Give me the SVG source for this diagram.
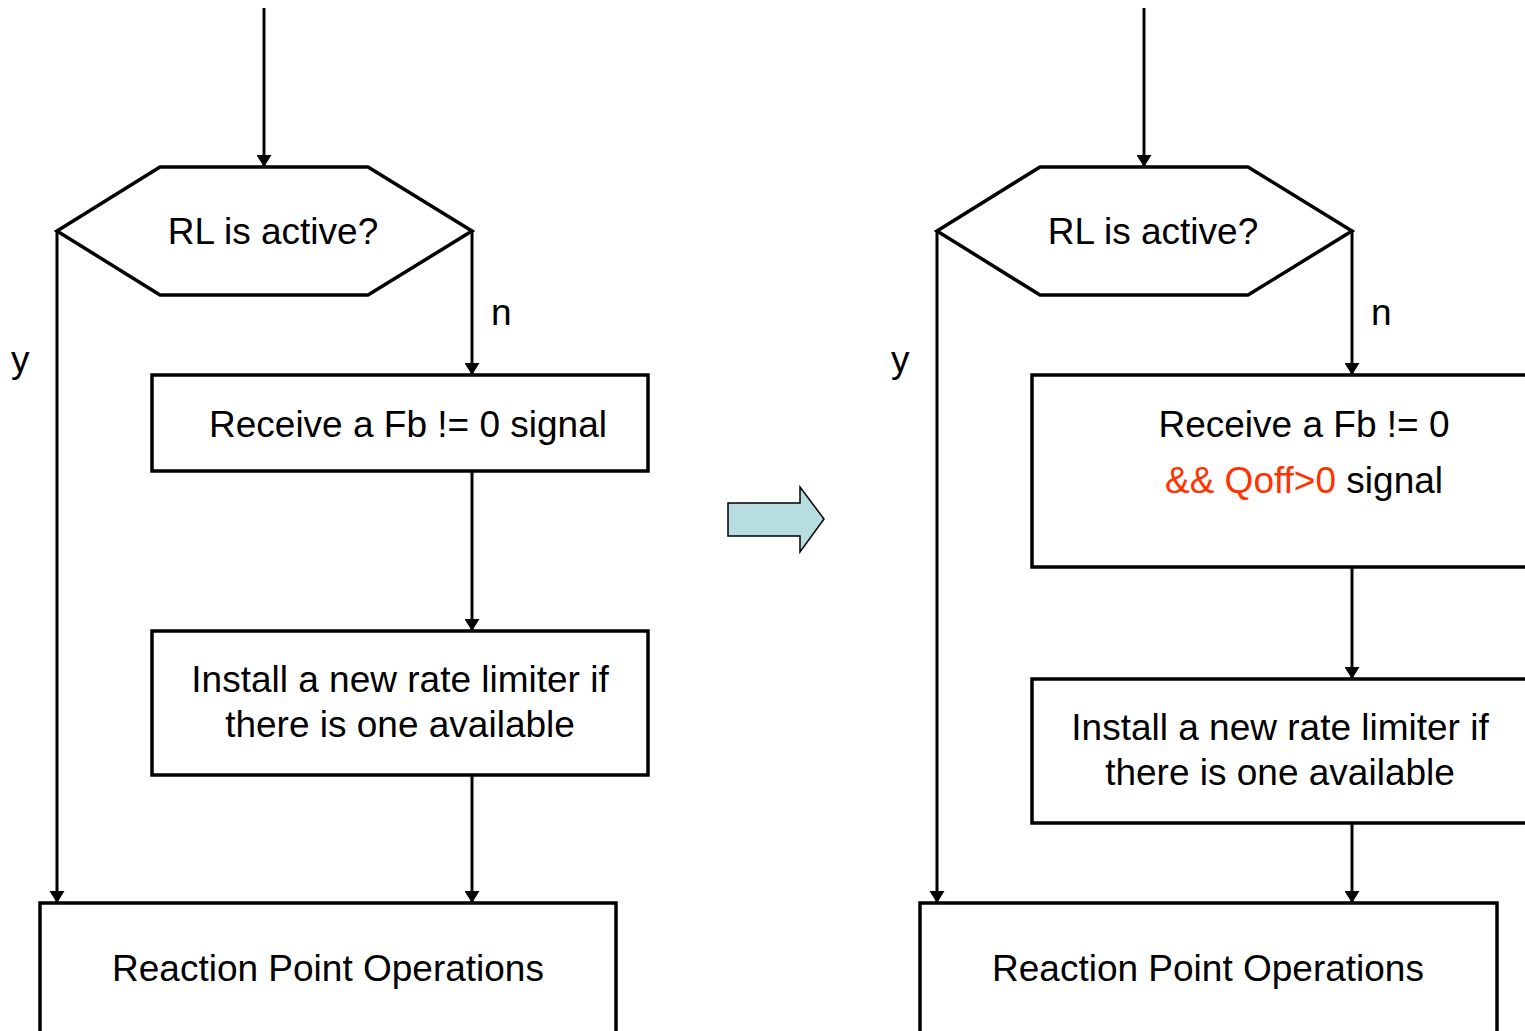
<svg xmlns="http://www.w3.org/2000/svg" width="1525" height="1031" viewBox="0 0 1525 1031">
<style>
.shape{fill:#fff;stroke:#000;stroke-width:3.5}
.t{font-family:"Liberation Sans",Arial,sans-serif;font-size:37px;fill:#000;text-anchor:middle}
.lbl{font-family:"Liberation Sans",Arial,sans-serif;font-size:37px;fill:#000}
.c{fill:none;stroke:#000;stroke-width:3}
.red{fill:#ff3300}
</style>
<defs>
<marker id="ah" viewBox="0 0 12 15" refX="12" refY="7.5" markerWidth="12" markerHeight="15" markerUnits="userSpaceOnUse" orient="auto">
<path d="M0,0 L12,7.5 L0,15 Z" fill="#000"/>
</marker>
</defs>
<rect width="1525" height="1031" fill="#fff"/>
<g id="left-decision">
<polygon class="shape" points="160,167 368,167 472,231 368,295 160,295 57,231"/>
<text class="t" x="273" y="244">RL is active?</text>
</g>
<g id="left-receive">
<rect class="shape" x="152" y="375" width="496" height="96"/>
<text class="t" x="408" y="437">Receive a Fb != 0 signal</text>
</g>
<g id="left-install">
<rect class="shape" x="152" y="631" width="496" height="144"/>
<text class="t" x="400" y="692">Install a new rate limiter if</text>
<text class="t" x="400" y="737">there is one available</text>
</g>
<g id="left-rpo">
<rect class="shape" x="40" y="903" width="576" height="140"/>
<text class="t" x="328" y="981">Reaction Point Operations</text>
</g>
<g id="right-decision">
<polygon class="shape" points="1040,167 1248,167 1352,231 1248,295 1040,295 937,231"/>
<text class="t" x="1153" y="244">RL is active?</text>
</g>
<g id="right-receive">
<rect class="shape" x="1032" y="375" width="510" height="192"/>
<text class="t" x="1304" y="437">Receive a Fb != 0</text>
<text class="t" x="1304" y="493"><tspan class="red">&amp;&amp; Qoff&gt;0</tspan> signal</text>
</g>
<g id="right-install">
<rect class="shape" x="1032" y="679" width="510" height="144"/>
<text class="t" x="1280" y="740">Install a new rate limiter if</text>
<text class="t" x="1280" y="785">there is one available</text>
</g>
<g id="right-rpo">
<rect class="shape" x="920" y="903" width="577" height="140"/>
<text class="t" x="1208" y="981">Reaction Point Operations</text>
</g>
<g id="transition-arrow">
<polygon points="728,503 800,503 800,487 824,519 800,552 800,536 728,536" fill="#b7dde1" stroke="#000" stroke-width="1.5"/>
</g>
<g id="connectors">
<line class="c" x1="264" y1="8" x2="264" y2="167" marker-end="url(#ah)"/>
<line class="c" x1="472" y1="231" x2="472" y2="375" marker-end="url(#ah)"/>
<line class="c" x1="57" y1="231" x2="57" y2="903" marker-end="url(#ah)"/>
<line class="c" x1="472" y1="471" x2="472" y2="631" marker-end="url(#ah)"/>
<line class="c" x1="472" y1="775" x2="472" y2="903" marker-end="url(#ah)"/>
<line class="c" x1="1144" y1="8" x2="1144" y2="167" marker-end="url(#ah)"/>
<line class="c" x1="1352" y1="231" x2="1352" y2="375" marker-end="url(#ah)"/>
<line class="c" x1="937" y1="231" x2="937" y2="903" marker-end="url(#ah)"/>
<line class="c" x1="1352" y1="567" x2="1352" y2="679" marker-end="url(#ah)"/>
<line class="c" x1="1352" y1="823" x2="1352" y2="903" marker-end="url(#ah)"/>
<text class="lbl" x="491" y="325">n</text>
<text class="lbl" x="11" y="372">y</text>
<text class="lbl" x="1371" y="325">n</text>
<text class="lbl" x="891" y="372">y</text>
</g>
</svg>
